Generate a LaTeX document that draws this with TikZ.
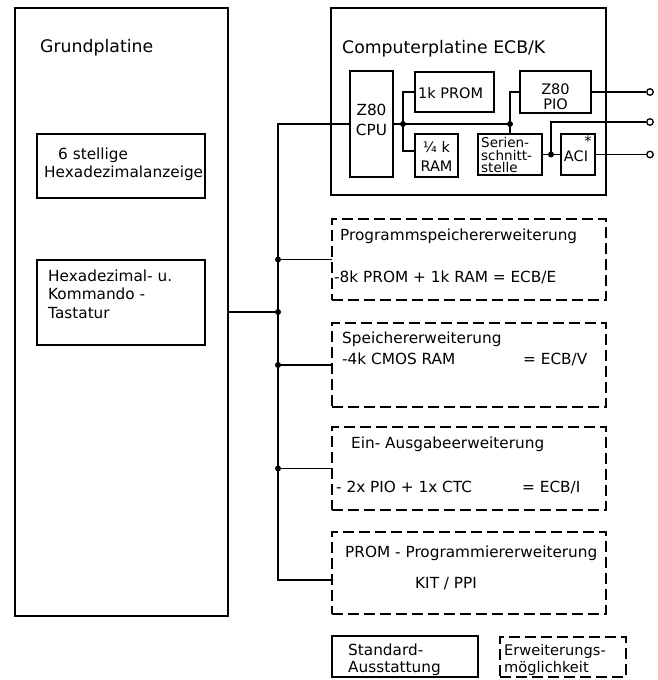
\documentclass[tikz,border=0pt]{standalone}
\usepackage{fontspec}
\setmainfont{DejaVu Sans}
\newcommand\fsBig{\fontsize{17.3pt}{20pt}\selectfont}
\newcommand\fsMid{\fontsize{15.3pt}{18pt}\selectfont}
\newcommand\fsLeg{\fontsize{14.6pt}{17pt}\selectfont}
\newcommand\fsIn{\fontsize{14.5pt}{17pt}\selectfont}
\newcommand\fsSm{\fontsize{13.5pt}{15pt}\selectfont}
\begin{document}
\begin{tikzpicture}[x=1pt,y=-1pt,
  box/.style={draw, line width=1.7pt, inner sep=0pt, outer sep=0pt},
  dbox/.style={draw, line width=1.4pt, dash pattern=on 11pt off 5pt, inner sep=0pt, outer sep=0pt},
  wire/.style={line width=1.3pt},
  txt/.style={anchor=base west, inner sep=0pt},
  ctxt/.style={anchor=base, inner sep=0pt},
  jdot/.style={circle, fill=black, inner sep=0pt, minimum size=6pt},
  term/.style={circle, draw, fill=white, line width=1.3pt, inner sep=0pt, minimum size=6.5pt}]
\useasboundingbox (0,0) rectangle (658,680);

% Grundplatine
\node[box, minimum width=213pt, minimum height=608pt] (grund) at (121.5,312) {};
\node[box, minimum width=168pt, minimum height=64pt] (anz) at (121,166) {};
\node[box, minimum width=168pt, minimum height=85pt] (tast) at (121,302.5) {};
\node[txt, font=\fsBig] (tg) at (40,52) {Grundplatine};
\node[txt, font=\fsMid] (ta1) at (58,159) {6 stellige};
\node[txt, font=\fsMid] (ta2) at (44,177) {Hexadezimalanzeige};
\node[txt, font=\fsMid] (tt1) at (48,281) {Hexadezimal- u.};
\node[txt, font=\fsMid] (tt2) at (48,299) {Kommando -};
\node[txt, font=\fsMid] (tt3) at (48,318) {Tastatur};

% Computerplatine
\node[box, minimum width=275pt, minimum height=187pt] (board) at (468.5,101.5) {};
\node[txt, font=\fsBig] (tb) at (342,53) {Computerplatine ECB/K};
\node[box, minimum width=43pt, minimum height=106pt] (cpu) at (371.5,124) {};
\node[box, minimum width=79pt, minimum height=40pt] (prom) at (454.5,92) {};
\node[box, minimum width=43pt, minimum height=43pt] (ram) at (436.5,155.5) {};
\node[box, minimum width=71pt, minimum height=42pt] (pio) at (555.5,92) {};
\node[box, minimum width=64pt, minimum height=41pt] (seri) at (510,154.5) {};
\node[box, minimum width=34pt, minimum height=41pt] (aci) at (578,154.5) {};
\node[ctxt, font=\fsMid] (tc1) at (371.5,115) {Z80};
\node[ctxt, font=\fsMid] (tc2) at (371.5,135) {CPU};
\node[txt, font=\fsIn] (tp) at (418,98) {1k PROM};
\node[ctxt, font=\fsIn] (tr1) at (436.5,152) {¼ k};
\node[ctxt, font=\fsIn] (tr2) at (436.5,171) {RAM};
\node[ctxt, font=\fsIn] (tpi1) at (555.5,94) {Z80};
\node[ctxt, font=\fsIn] (tpi2) at (555.5,109) {PIO};
\node[txt, font=\fsSm] (ts1) at (481,147) {Serien-};
\node[txt, font=\fsSm] (ts2) at (481,160) {schnitt-};
\node[txt, font=\fsSm] (ts3) at (481,172) {stelle};
\node[ctxt, font=\fsIn] (tac) at (576,161) {ACI};
\node[ctxt, font=\fsIn] (tstar) at (588,146) {*};

% Terminals
\node[term] (t1) at (650,92) {};
\node[term] (t2) at (650,122) {};
\node[term] (t3) at (650,154.5) {};

% Expansion boxes
\node[dbox, minimum width=274pt, minimum height=81pt] (e1) at (469,259.5) {};
\node[dbox, minimum width=274pt, minimum height=84pt] (e2) at (469,365) {};
\node[dbox, minimum width=274pt, minimum height=83pt] (e3) at (469,468.5) {};
\node[dbox, minimum width=274pt, minimum height=82pt] (e4) at (469,573) {};
\node[txt, font=\fsMid] (te1a) at (340,240) {Programmspeichererweiterung};
\node[txt, font=\fsMid] (te1b) at (334,282) {-8k PROM + 1k RAM = ECB/E};
\node[txt, font=\fsMid] (te2a) at (342,343) {Speichererweiterung};
\node[txt, font=\fsMid] (te2b) at (342,364) {-4k CMOS RAM};
\node[txt, font=\fsMid] (te2c) at (523,364) {= ECB/V};
\node[txt, font=\fsMid] (te3a) at (351,448) {Ein- Ausgabeerweiterung};
\node[txt, font=\fsMid] (te3b) at (336,492) {- 2x PIO + 1x CTC};
\node[txt, font=\fsMid] (te3c) at (522,492) {= ECB/I};
\node[txt, font=\fsMid] (te4a) at (345,557) {PROM - Programmiererweiterung};
\node[txt, font=\fsMid] (te4b) at (415,588) {KIT / PPI};

% Legend
\node[box, minimum width=146pt, minimum height=41pt] (std) at (405,656.5) {};
\node[dbox, minimum width=126pt, minimum height=40pt] (erw) at (563,657) {};
\node[txt, font=\fsMid] (tl1) at (348,655) {Standard-};
\node[txt, font=\fsMid] (tl2) at (348,672) {Ausstattung};
\node[txt, font=\fsLeg] (tl3) at (504,655) {Erweiterungs-};
\node[txt, font=\fsLeg] (tl4) at (504,672) {möglichkeit};

% Bus
\coordinate (btop) at (278,124);
\coordinate (j1) at (278,259.5);
\coordinate (j2) at (278,312);
\coordinate (j3) at (278,365);
\coordinate (j4) at (278,468.5);
\coordinate (bbot) at (278,580);
\draw[wire] (cpu.west) -- (btop) -- (bbot) -- (e4.west |- bbot);
\draw[wire] (grund.east |- j2) -- (j2);
\draw[wire] (j1) -- (e1.west);
\draw[wire] (j3) -- (e2.west);
\draw[wire] (j4) -- (e3.west);

% Internal wiring
\coordinate (c1) at (403,124);
\coordinate (c2) at (seri.north |- c1);
\coordinate (r1) at (0,151);
\coordinate (d1) at (551,154.5);
\draw[wire] (cpu.east) -- (c2);
\draw[wire] (prom.west) -| (c1);
\draw[wire] (c1) |- (ram.west |- r1);
\draw[wire] (seri.north) -- (seri.north |- pio.west) -- (pio.west);
\draw[wire] (pio.east) -- (t1);
\draw[wire] (seri.east) -- (aci.west);
\draw[wire] (d1) |- (t2);
\draw[wire] (aci.east) -- (t3);

% Junction dots
\node[jdot] (dj1) at (j1) {};
\node[jdot] (dj2) at (j2) {};
\node[jdot] (dj3) at (j3) {};
\node[jdot] (dj4) at (j4) {};
\node[jdot] (dc1) at (c1) {};
\node[jdot] (dc2) at (c2) {};
\node[jdot] (dd1) at (d1) {};
\end{tikzpicture}
\end{document}
